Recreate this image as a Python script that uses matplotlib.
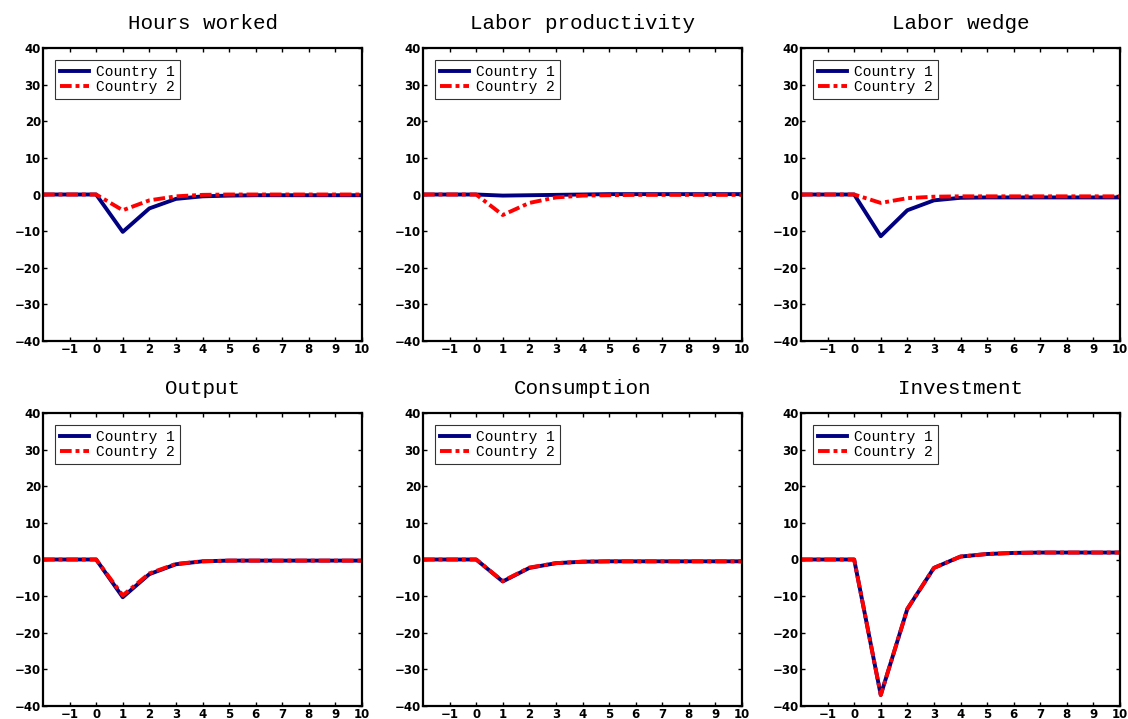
import numpy as np
import matplotlib
matplotlib.use("Agg")
import matplotlib.pyplot as plt

periods = [-2, -1, 0, 1, 2, 3, 4, 5, 6, 7, 8, 9, 10]
titles = ["Hours worked", "Labor productivity", "Labor wedge",
          "Output", "Consumption", "Investment"]

hours_c1 = [0, 0, 0, -10.2, -3.8, -1.2, -0.5, -0.3, -0.2, -0.2, -0.2, -0.2, -0.2]
hours_c2 = [0, 0, 0, -4.3, -1.6, -0.5, -0.1, 0, 0, 0, 0, 0, 0]
prod_c1 = [0, 0, 0, -0.3, -0.2, -0.1, 0, 0.1, 0.1, 0.1, 0.1, 0.1, 0.1]
prod_c2 = [0, 0, 0, -5.6, -2.3, -0.8, -0.3, -0.2, -0.1, -0.1, -0.1, -0.1, -0.1]
wedge_c1 = [0, 0, 0, -11.4, -4.3, -1.6, -0.9, -0.8, -0.8, -0.8, -0.8, -0.8, -0.8]
wedge_c2 = [0, 0, 0, -2.3, -1.0, -0.6, -0.5, -0.5, -0.5, -0.5, -0.5, -0.5, -0.5]
output_c1 = [0, 0, 0, -10.3, -4.0, -1.3, -0.5, -0.3, -0.3, -0.3, -0.3, -0.3, -0.3]
output_c2 = [0, 0, 0, -9.8, -3.8, -1.2, -0.5, -0.3, -0.3, -0.3, -0.3, -0.3, -0.3]
cons_c1 = [0, 0, 0, -6.0, -2.3, -1.0, -0.6, -0.5, -0.5, -0.5, -0.5, -0.5, -0.5]
cons_c2 = [0, 0, 0, -5.9, -2.2, -1.0, -0.6, -0.5, -0.5, -0.5, -0.5, -0.5, -0.5]
inv_c1 = [0, 0, 0, -37.0, -13.5, -2.3, 0.8, 1.5, 1.8, 1.9, 1.9, 1.9, 1.9]
inv_c2 = [0, 0, 0, -37.0, -13.5, -2.3, 0.8, 1.5, 1.8, 1.9, 1.9, 1.9, 1.9]

series = [(hours_c1, hours_c2), (prod_c1, prod_c2), (wedge_c1, wedge_c2),
          (output_c1, output_c2), (cons_c1, cons_c2), (inv_c1, inv_c2)]

fig = plt.figure(figsize=(11.28, 7.19), dpi=100)
W, H = 1128, 719
lefts = [43, 423, 801]
tops = [48, 413]
aw, ah = 319, 293

for i, (ttl, (c1, c2)) in enumerate(zip(titles, series)):
    r, c = divmod(i, 3)
    ax = fig.add_axes([lefts[c] / W, 1 - (tops[r] + ah) / H, aw / W, ah / H])
    ax.plot(periods, c1, color="#000080", lw=2.8, label="Country 1")
    ax.plot(periods, c2, color="#ff0000", lw=2.8, ls=(0, (3, 1, 1, 1)), label="Country 2")
    ax.set_xlim(-2, 10)
    ax.set_ylim(-40, 40)
    ax.set_xticks(range(-1, 11))
    ax.set_yticks(range(-40, 41, 10))
    ax.tick_params(direction="in", length=3, width=1, right=True, top=True,
                   labelsize=8.5, pad=1.5)
    for lab in ax.get_xticklabels() + ax.get_yticklabels():
        lab.set_fontweight("bold")
    for sp in ax.spines.values():
        sp.set_linewidth(1.6)
    ax.set_title(ttl, family="Liberation Mono", fontsize=15, pad=14)
    leg = ax.legend(loc="upper left", prop={"family": "Liberation Mono", "size": 10.5},
                    frameon=True, fancybox=False, edgecolor="black",
                    handlelength=2.0, borderpad=0.35, labelspacing=0.1,
                    handletextpad=0.5, borderaxespad=0.8)
    leg.get_frame().set_linewidth(0.8)

fig.savefig("out.png", dpi=100)
